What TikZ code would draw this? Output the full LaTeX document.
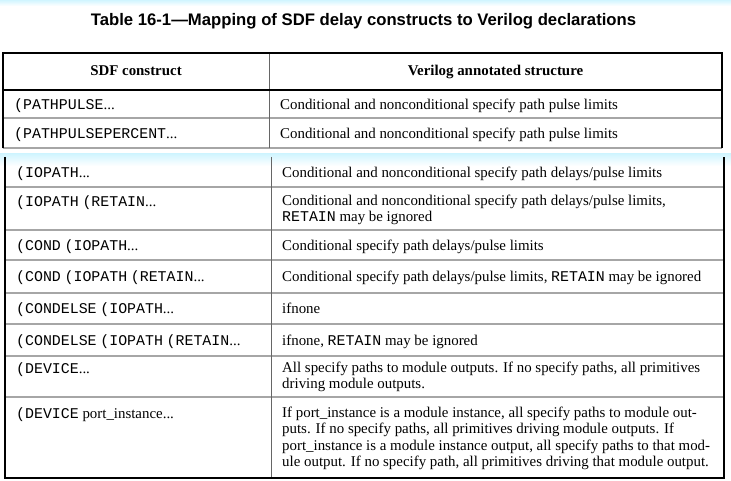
\documentclass[tikz,border=0pt]{standalone}
\usepackage{fontspec}
\setmainfont{Liberation Serif}
\setmonofont{Liberation Mono}
\newfontfamily\titlefont{Liberation Sans}
\begin{document}
\begin{tikzpicture}[x=1pt,y=-1pt,
  cellfont/.style={font=\fontsize{14.9}{16.5}\selectfont},
  cell/.style={cellfont,anchor=north west,inner sep=0pt,align=left,execute at begin node={\strut}},
  head/.style={font=\fontsize{14.9}{16.5}\selectfont\bfseries,anchor=base,inner sep=0pt},
  outer/.style={black,line width=1.8pt},
  rowline/.style={black!35,line width=1.1pt},
  colline/.style={black!60,line width=0.9pt},
  band/.style={top color=blue!22!cyan!18,bottom color=white,draw=none}]
\useasboundingbox (0,0) rectangle (731,481);
\fill[white] (0,0) rectangle (731,481);
% page-edge bands
\shade[band] (0,0) rectangle (731,6);
\shade[band] (0,154) rectangle (731,166);
% title
\node[font=\titlefont\fontsize{16.7}{19}\selectfont\bfseries,anchor=base,inner sep=0pt] (title) at (363.5,26)
  {Table 16-1—Mapping of SDF delay constructs to Verilog declarations};
% ---------- top part ----------
\draw[rowline] (3,118) -- (722,118);
\draw[rowline] (3,148) -- (722,148);
\draw[colline] (269,53) -- (269,148);
\draw[outer] (3,90) -- (722,90);
\draw[outer] (3,148.5) -- (3,53) -- (722,53) -- (722,148.5);
\node[head] (h1) at (136,76) {SDF construct};
\node[head] (h2) at (495.5,76) {Verilog annotated structure};
\node[cell] (a1) at (14,{109-11.55}) {\texttt{(PATHPULSE}...};
\node[cell] (b1) at (280,{109-11.55}) {Conditional and nonconditional specify path pulse limits};
\node[cell] (a2) at (14,{138-11.55}) {\texttt{(PATHPULSEPERCENT}...};
\node[cell] (b2) at (280,{138-11.55}) {Conditional and nonconditional specify path pulse limits};
% ---------- lower part ----------
\foreach \yy in {187,230,260,293,324,356,397} {\draw[rowline] (5,\yy) -- (724,\yy);}
\draw[colline] (271,157) -- (271,478);
\draw[outer] (5,157) -- (5,478) -- (724,478) -- (724,157);
\node[cell] (a3) at (16,{177-11.55}) {\texttt{(IOPATH}...};
\node[cell] (b3) at (282,{177-11.55}) {Conditional and nonconditional specify path delays/pulse limits};
\node[cell] (a4) at (16,{206-11.55}) {\texttt{(IOPATH} \texttt{(RETAIN}...};
\node[cell] (b4) at (282,{206-11.55}) {Conditional and nonconditional specify path delays/pulse limits,\\\texttt{RETAIN} may be ignored};
\node[cell] (a5) at (16,{250-11.55}) {\texttt{(COND} \texttt{(IOPATH}...};
\node[cell] (b5) at (282,{250-11.55}) {Conditional specify path delays/pulse limits};
\node[cell] (a6) at (16,{281.5-11.55}) {\texttt{(COND} \texttt{(IOPATH} \texttt{(RETAIN}...};
\node[cell] (b6) at (282,{281.5-11.55}) {Conditional specify path delays/pulse limits, \texttt{RETAIN} may be ignored};
\node[cell] (a7) at (16,{313.5-11.55}) {\texttt{(CONDELSE} \texttt{(IOPATH}...};
\node[cell] (b7) at (282,{313.5-11.55}) {ifnone};
\node[cell] (a8) at (16,{345-11.55}) {\texttt{(CONDELSE} \texttt{(IOPATH} \texttt{(RETAIN}...};
\node[cell] (b8) at (282,{345-11.55}) {ifnone, \texttt{RETAIN} may be ignored};
\node[cell] (a9) at (16,{373-11.55}) {\texttt{(DEVICE}...};
\node[cell] (b9) at (282,{373-11.55}) {All specify paths to module outputs. If no specify paths, all primitives\\driving module outputs.};
\node[cell] (a10) at (16,{418-11.55}) {\texttt{(DEVICE} port\_instance...};
\node[cell] (b10) at (282,{418-11.55}) {If port\_instance is a module instance, all specify paths to module out-\\puts. If no specify paths, all primitives driving module outputs. If\\port\_instance is a module instance output, all specify paths to that mod-\\ule output. If no specify path, all primitives driving that module output.};
\end{tikzpicture}
\end{document}
